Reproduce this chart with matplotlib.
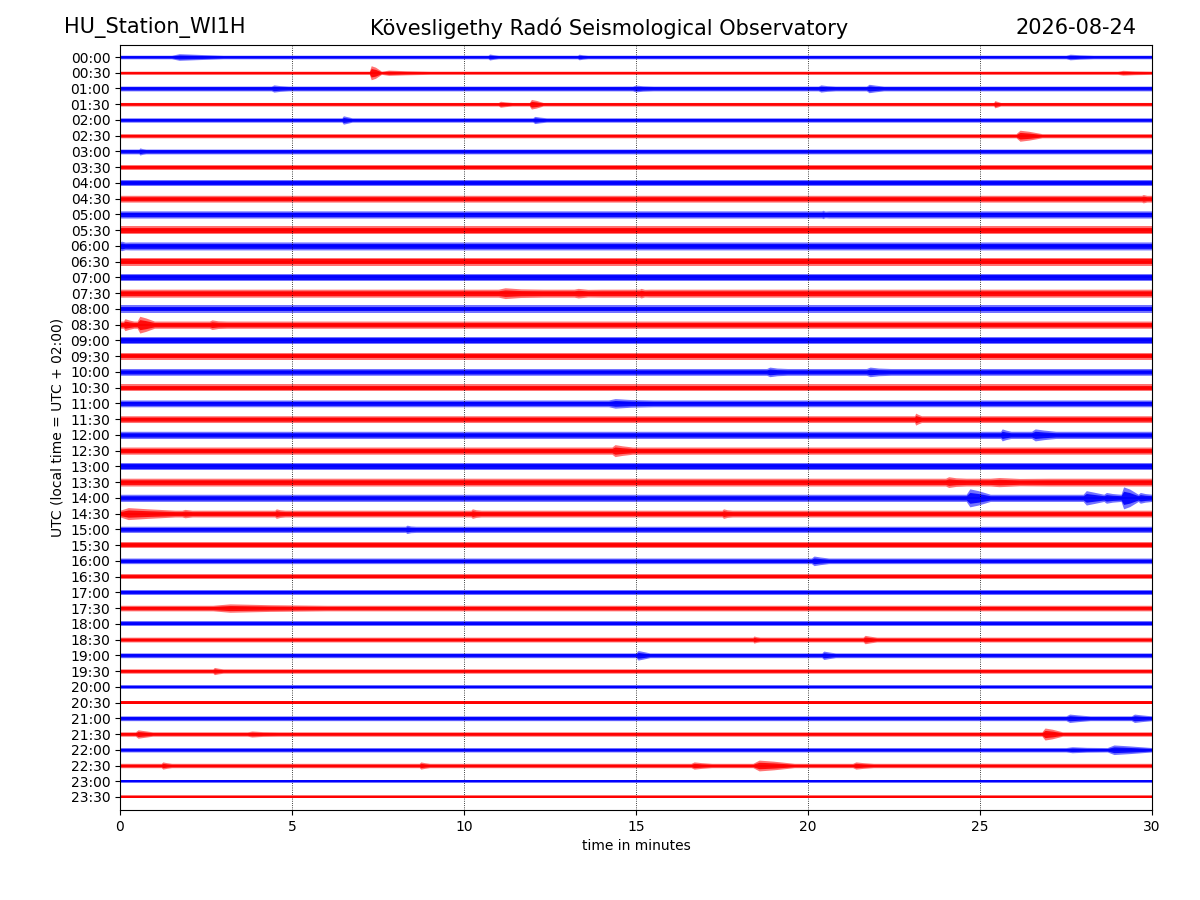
import numpy as np
import matplotlib
matplotlib.use("Agg")
import matplotlib.pyplot as plt

# trace labels (UTC start of each half-hour line)
hours = ["%02d:%02d" % (h, m) for h in range(24) for m in (0, 30)]

# typical half-width of each trace band, in pixels
base_px = [1.8, 1.6, 2.4, 1.8, 2.2, 2.1, 2.4, 2.7, 2.8, 3.4,
           3.6, 4.0, 4.0, 4.0, 3.6, 4.0, 3.6, 3.6, 3.6, 3.4,
           3.4, 3.4, 3.4, 3.4, 3.6, 3.6, 3.6, 3.9, 3.6, 3.4,
           3.1, 2.8, 2.8, 2.8, 2.4, 2.8, 2.4, 2.4, 2.4, 2.2,
           1.8, 1.8, 2.4, 2.2, 2.2, 2.2, 1.6, 1.5]

# louder stretches: trace label -> (start min, end min, half-width px)
events = {
    "00:00": [(1.5, 3.0, 3.3), (10.7, 11.0, 3.0), (13.3, 13.6, 2.8), (27.5, 28.3, 2.8)],
    "00:30": [(7.25, 7.6, 7.0), (7.6, 9.0, 2.6), (29.0, 30.0, 2.4)],
    "01:00": [(4.4, 4.9, 3.6), (14.9, 15.5, 3.4), (20.3, 20.8, 3.6), (21.7, 22.2, 4.2)],
    "01:30": [(11.0, 11.4, 3.0), (11.9, 12.3, 4.8), (25.4, 25.6, 3.6)],
    "02:00": [(6.45, 6.75, 4.2), (12.0, 12.4, 3.6)],
    "02:30": [(26.05, 26.8, 5.5)],
    "03:00": [(0.55, 0.75, 3.6)],
    "04:30": [(29.7, 30.0, 4.2)],
    "05:00": [(20.4, 20.6, 4.2)],
    "06:00": [(0.0, 0.3, 4.8)],
    "07:30": [(11.0, 12.3, 5.4), (13.2, 14.0, 4.8), (15.1, 15.4, 4.8)],
    "08:30": [(0.1, 0.4, 6.0), (0.5, 1.0, 8.4), (2.6, 3.1, 4.8)],
    "10:00": [(18.8, 19.4, 4.8), (21.7, 22.4, 4.8)],
    "11:00": [(14.2, 15.5, 4.8)],
    "11:30": [(23.1, 23.3, 6.0)],
    "12:00": [(25.6, 25.9, 6.0), (26.5, 27.2, 6.0)],
    "12:30": [(14.3, 14.9, 6.0)],
    "13:30": [(24.0, 24.6, 5.4), (25.3, 27.0, 4.6)],
    "14:00": [(24.6, 25.3, 9.0), (28.0, 28.6, 7.2),
              (28.6, 29.1, 5.4), (29.1, 29.6, 11.0), (29.6, 30.0, 5.4)],
    "14:30": [(0.0, 1.6, 6.0), (1.8, 2.4, 4.2), (4.5, 4.8, 4.8),
              (10.2, 10.5, 4.8), (17.5, 17.8, 4.8)],
    "15:00": [(8.3, 8.6, 4.2)],
    "16:00": [(20.1, 20.6, 4.8)],
    "17:30": [(2.7, 6.0, 4.2)],
    "18:30": [(18.4, 18.6, 3.6), (21.6, 22.0, 4.2)],
    "19:00": [(15.0, 15.4, 4.8), (20.4, 20.8, 4.2)],
    "19:30": [(2.7, 3.0, 3.6)],
    "21:00": [(27.5, 28.2, 4.2), (29.4, 30.0, 4.2)],
    "21:30": [(0.45, 0.95, 4.2), (3.7, 4.6, 3.0), (26.8, 27.4, 6.0)],
    "22:00": [(27.5, 28.7, 3.0), (28.7, 30.0, 4.8)],
    "22:30": [(1.2, 1.5, 3.6), (8.7, 9.0, 3.6), (16.6, 17.2, 3.6),
              (18.4, 19.6, 5.4), (21.3, 21.9, 3.6)],
}

colors = ["blue", "red"]
px_per_line = 15.74

fig = plt.figure(figsize=(12, 9), dpi=100)
ax = fig.add_axes([0.1, 0.1, 0.86, 0.85])

for i, lab in enumerate(hours):
    b0 = base_px[i]
    # envelope break points: fast onset, short plateau, decay to background
    xs, ws = [0.0], [b0]
    for (a, b, amp) in sorted(events.get(lab, [])):
        L = b - a
        xs += [a, a + 0.15 * L, a + 0.5 * L, b]
        ws += [b0, amp, 0.8 * amp, b0]
    xs.append(30.0)
    ws.append(b0)
    xs = np.array(xs)
    ws = np.array(ws) / px_per_line
    c = colors[i % 2]
    ax.fill_between(xs, i - ws, i + ws, color=c, alpha=0.55, lw=0)
    ax.fill_between(xs, i - 0.6 * ws, i + 0.6 * ws, color=c, alpha=0.9, lw=0)
    ax.plot([0, 30], [i, i], color=c, lw=1.2)

ax.set_xlim(0, 30)
ax.set_ylim(47 + 13 / px_per_line, -12 / px_per_line)
ax.set_yticks(range(len(hours)))
ax.set_yticklabels(hours)
ax.set_xticks([0, 5, 10, 15, 20, 25, 30])
ax.grid(axis="x", color="black", linestyle=":", linewidth=0.6)
ax.set_xlabel("time in minutes")
ax.set_ylabel("UTC (local time = UTC + 02:00)")

fig.text(0.053, 0.969, "HU_Station_WI1H", fontsize=15, va="center", ha="left")
fig.text(0.508, 0.969, "Kövesligethy Radó Seismological Observatory", fontsize=15,
         va="center", ha="center")
fig.text(0.947, 0.969, "2026-08-24", fontsize=15, va="center", ha="right")

fig.savefig("out.png", dpi=100)
